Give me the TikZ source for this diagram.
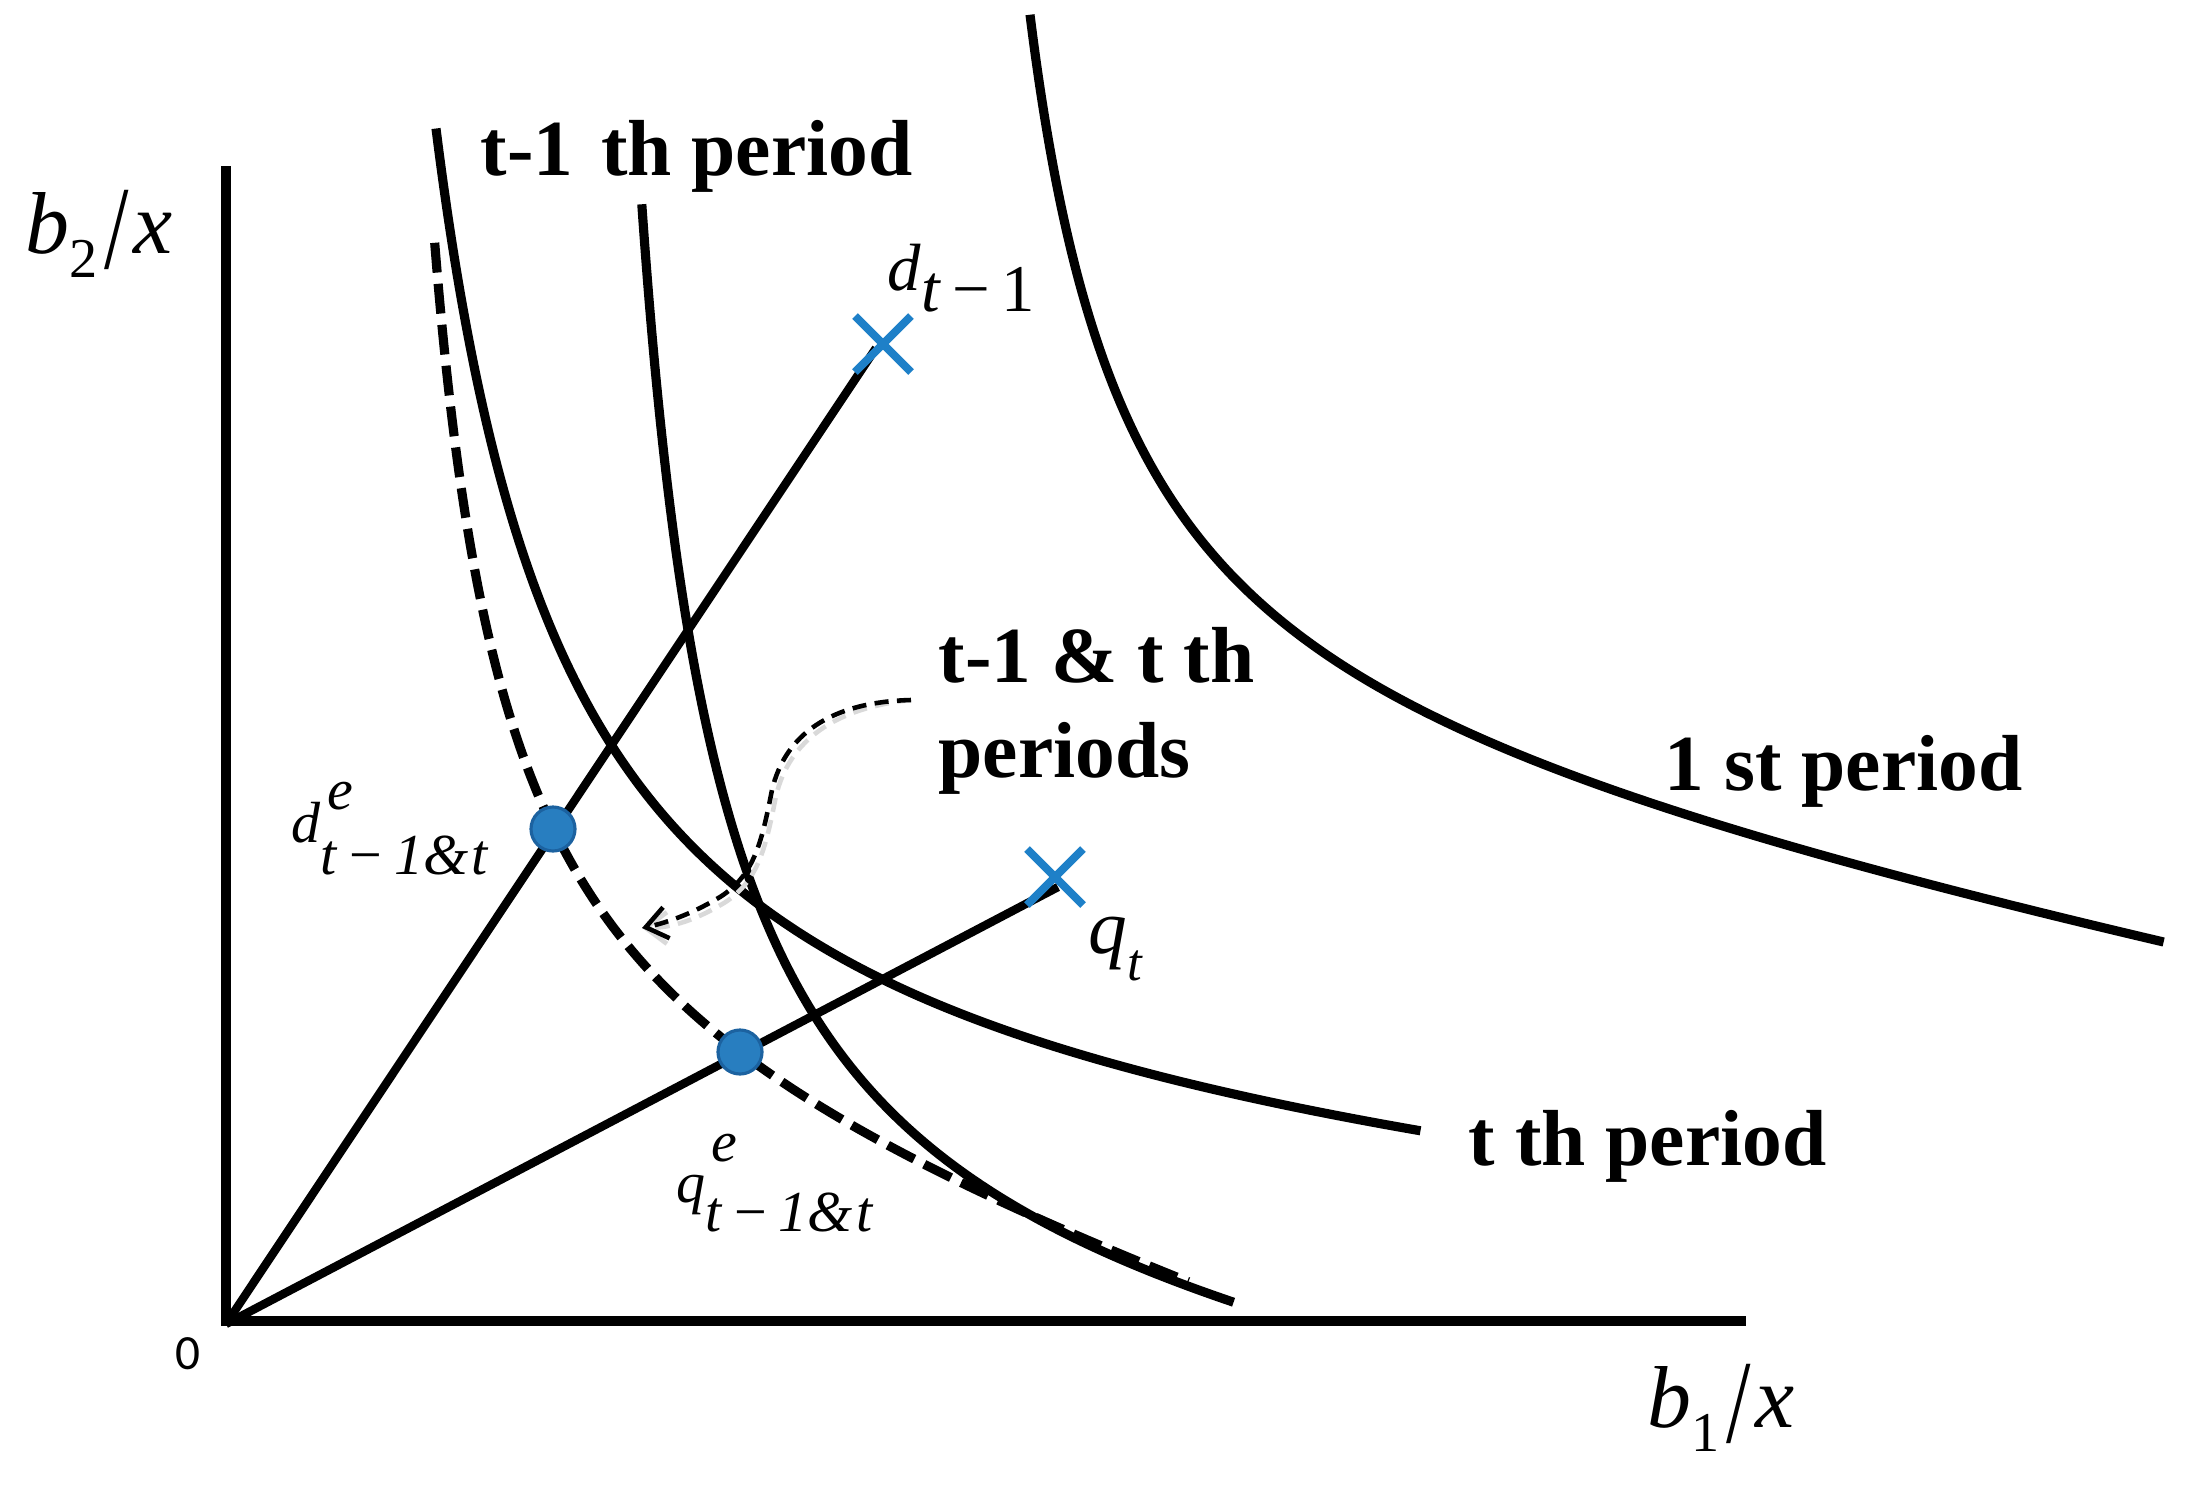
\documentclass[tikz,border=0pt]{standalone}
\usepackage{fontspec}
\usepackage{graphicx}
\setmainfont{Liberation Serif}
\newfontfamily\zerofont{Carlito}
\usetikzlibrary{arrows.meta}
\definecolor{xblue}{RGB}{30,128,200}
\definecolor{dotblue}{RGB}{40,126,192}
\definecolor{dotedge}{RGB}{28,98,160}
\begin{document}
\begin{tikzpicture}[x=0.01cm,y=-0.01cm,
  axis/.style={line width=3.1pt, line join=miter},
  curve/.style={line width=2.6pt, line join=round, samples=400, smooth},
  dcurve/.style={line width=2.6pt, dash pattern=on 8.5pt off 3.2pt, samples=400, smooth},
  ray/.style={line width=2.4pt},
  lbl/.style={inner sep=0pt, anchor=base west, font=\fontsize{22.6}{27}\selectfont\bfseries},
  mlbl/.style={inner sep=0pt, anchor=base west},
  xmark/.style={line width=2.3pt, draw=xblue},
  edot/.style={circle, fill=dotblue, draw=dotedge, line width=0.9pt, minimum size=0.44cm, inner sep=0pt},
  callout/.style={line width=1.3pt, dash pattern=on 4pt off 2.4pt, -{Straight Barb[length=6pt,width=9pt]}},
  ]
\useasboundingbox (0,0) rectangle (2211,1502);

% axes
\coordinate (ytop) at (226,166);
\coordinate (corner) at (226,1321);
\coordinate (xend) at (1746,1321);
\draw[axis] (ytop) -- (corner) -- (xend);

% curves (coordinates in hundreds of pixels)
\draw[curve] plot[domain=10.30:21.64] ({100*\x},{100*(6.093+0.1831*\x-7.8318/(\x-9.3))});
\draw[curve] plot[domain=4.36:14.21] ({100*\x},{100*(11.805+0.057*\x-14.6454/(\x-3))});
\draw[curve] plot[domain=6.418:12.34] ({100*\x},{100*(12.843+0.129*\x-9.5123/(\x-5.6))});
\draw[dcurve] plot[domain=4.347:11.89] ({100*\x},{100*(9.959+0.3061*\x-6.4423/(\x-3.62))});

% rays
\coordinate (O) at (226,1324);
\coordinate (dend) at (876,348);
\coordinate (qend) at (1058,887);
\draw[ray] (O) -- (dend);
\draw[ray] (O) -- (qend);

% crosses
\coordinate (dx) at (883,344);
\coordinate (qx) at (1055,877);
\draw[xmark] ([shift={(-28,-28)}]dx) -- ([shift={(28,28)}]dx) ([shift={(-28,28)}]dx) -- ([shift={(28,-28)}]dx);
\draw[xmark] ([shift={(-28,-28)}]qx) -- ([shift={(28,28)}]qx) ([shift={(-28,28)}]qx) -- ([shift={(28,-28)}]qx);

% dots
\node[edot] (de) at (553,829) {};
\node[edot] (qe) at (740,1052) {};

% callout arrow with shadow
\coordinate (cs) at (911,700);
\coordinate (ce) at (642,928);
\draw[callout, black!15, shift={(4,6)}] (cs) .. controls (830,702) and (785,735) .. (772,790) .. controls (762,840) and (755,875) .. (720,897) .. controls (695,912) and (670,922) .. (ce);
\draw[callout] (cs) .. controls (830,702) and (785,735) .. (772,790) .. controls (762,840) and (755,875) .. (720,897) .. controls (695,912) and (670,922) .. (ce);

% text labels
\node[lbl] (l1) at (480,175) {t-1\hspace{0.35em}th period};
\node[lbl] (l2a) at (938,682) {t-1 \& t th};
\node[lbl] (l2b) at (938,777) {periods};
\node[lbl] (l3) at (1664,790) {1 st period};
\node[lbl] (l4) at (1468,1165) {t th period};

% math labels
\node[mlbl, font=\fontsize{25}{30}\selectfont] (ylab) at (25,253)
  {\textit{b}\raisebox{-0.28em}{\fontsize{16}{16}\selectfont 2}\hspace{0.08em}\raisebox{-0.18em}{\scalebox{1}[1.35]{/}}\hspace{0.05em}\textit{x}};
\node[mlbl, font=\fontsize{25}{30}\selectfont] (xlab) at (1647,1427)
  {\textit{b}\raisebox{-0.28em}{\fontsize{16}{16}\selectfont 1}\hspace{0.08em}\raisebox{-0.18em}{\scalebox{1}[1.35]{/}}\hspace{0.05em}\textit{x}};
\node[font=\zerofont\fontsize{14}{14}\selectfont, inner sep=0pt] (zero) at (188,1354) {0};
\node[mlbl, font=\fontsize{19}{20}\selectfont] (dlab) at (887,290)
  {\textit{d}\raisebox{-0.32em}{\textit{t}\,−\,1}};
\node[mlbl, font=\fontsize{22}{24}\selectfont] (qlab) at (1088,953)
  {\textit{q}\raisebox{-0.35em}{\fontsize{15}{15}\selectfont\textit{t}}};
\node[mlbl, font=\fontsize{16.5}{18}\selectfont] (delab) at (291,842)
  {\textit{d}\rlap{\hspace{0.12em}\raisebox{0.56em}{\textit{e}}}\raisebox{-0.56em}{\textit{t}\hspace{0.2em}−\hspace{0.2em}\textit{1\&}\hspace{0.06em}\textit{t}}};
\node[mlbl, font=\fontsize{16.5}{18}\selectfont] (qelab) at (676,1202)
  {\textit{q}\rlap{\hspace{0.1em}\raisebox{0.7em}{\textit{e}}}\raisebox{-0.5em}{\textit{t}\hspace{0.2em}−\hspace{0.2em}\textit{1\&}\hspace{0.06em}\textit{t}}};
\end{tikzpicture}
\end{document}
